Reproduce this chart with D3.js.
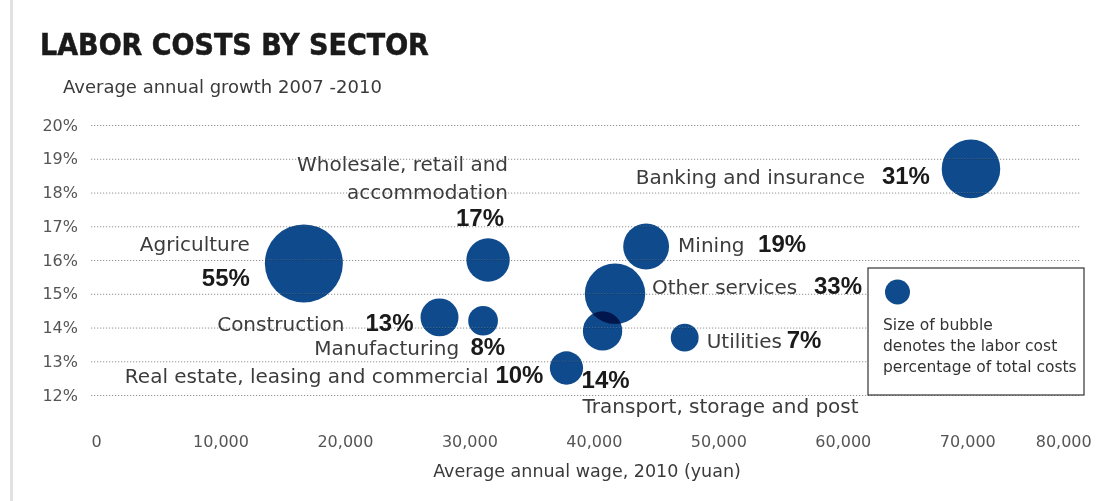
<!DOCTYPE html>
<html>
<head>
<meta charset="utf-8">
<script src="https://cdn.jsdelivr.net/npm/d3@7"></script>
<style>
  html, body { margin: 0; padding: 0; background: #fff; }
  svg { display: block; }
  .bubble { mix-blend-mode: multiply; }
</style>
</head>
<body>
<svg id="chart" width="1102" height="501"></svg>
<script>
// Sectors, 2010 average wage (yuan), average annual growth 2007-2010 (%),
// and labor cost as a share of total costs (%)
const sectors = [
  "Agriculture",
  "Wholesale, retail and accommodation",
  "Construction",
  "Manufacturing",
  "Real estate, leasing and commercial",
  "Transport, storage and post",
  "Other services",
  "Mining",
  "Utilities",
  "Banking and insurance"
];
const wages       = [16700, 31500, 27600, 31100, 37800, 40700, 41700, 44200, 47300, 70300];
const growthRates = [15.9, 16.0, 14.3, 14.2, 12.8, 13.9, 15.0, 16.4, 13.7, 18.7];
const laborShares = [55, 17, 13, 8, 10, 14, 33, 19, 7, 31];

const yTicks = [12, 13, 14, 15, 16, 17, 18, 19, 20];
const xTicks = [0, 10000, 20000, 30000, 40000, 50000, 60000, 70000, 80000];

const titleText = "LABOR COSTS BY SECTOR";
const subtitleText = "Average annual growth 2007 -2010";
const xTitleText = "Average annual wage, 2010 (yuan)";
const legendLines = ["Size of bubble", "denotes the labor cost", "percentage of total costs"];

// Label placement around each bubble (offsets from the bubble centre)
const labelLayout = {
  "Agriculture": { lines: ["Agriculture"], anchor: "end", dx: -54, dy: -12, pct: { anchor: "end", dx: -54, dy: 23 } },
  "Wholesale, retail and accommodation": { lines: ["Wholesale, retail and", "accommodation"], anchor: "end", dx: 20, dy: -89, pct: { anchor: "end", dx: 16, dy: -34 } },
  "Construction": { lines: ["Construction"], anchor: "end", dx: -95, dy: 14, pct: { anchor: "end", dx: -26, dy: 14 } },
  "Manufacturing": { lines: ["Manufacturing"], anchor: "end", dx: -24, dy: 34, pct: { anchor: "end", dx: 22, dy: 34 } },
  "Real estate, leasing and commercial": { lines: ["Real estate, leasing and commercial"], anchor: "end", dx: -78, dy: 15, pct: { anchor: "end", dx: -23, dy: 15 } },
  "Transport, storage and post": { lines: ["Transport, storage and post"], anchor: "start", dx: -20, dy: 82, pct: { anchor: "start", dx: -21, dy: 57 } },
  "Other services": { lines: ["Other services"], anchor: "start", dx: 37, dy: 0, pct: { anchor: "end", dx: 247, dy: 0 } },
  "Mining": { lines: ["Mining"], anchor: "start", dx: 32, dy: 5, pct: { anchor: "start", dx: 112, dy: 5 } },
  "Utilities": { lines: ["Utilities"], anchor: "start", dx: 22, dy: 10, pct: { anchor: "start", dx: 102, dy: 10 } },
  "Banking and insurance": { lines: ["Banking and insurance"], anchor: "end", dx: -106, dy: 15, pct: { anchor: "end", dx: -41, dy: 15 } }
};

const W = 1102, H = 501;
const plot = { left: 91, right: 1080, top: 125, bottom: 395 };

const svg = d3.select("#chart");
const sansLight = "'DejaVu Sans', sans-serif";
const sansBold = "'Liberation Sans', Arial, sans-serif";

const x = d3.scaleLinear().domain([0, 80000]).range([96, 1091.7]);
const y = d3.scaleLinear().domain([12, 20]).range([plot.bottom, plot.top]);
const r = d3.scaleSqrt().domain([0, 55]).range([0, 39]);

const rows = sectors.map((name, i) => ({
  name, wage: wages[i], growth: growthRates[i], share: laborShares[i]
}));

// page edge rule on the left
svg.append("rect").attr("x", 10).attr("y", 0).attr("width", 3).attr("height", H).attr("fill", "#e2e2e2");

// title block
svg.append("text").attr("x", 40).attr("y", 55)
  .attr("font-family", "'DejaVu Sans Condensed', 'DejaVu Sans', sans-serif")
  .attr("font-stretch", "condensed")
  .attr("font-weight", 700).attr("font-size", 30)
  .attr("fill", "#1a1a1a").attr("stroke", "#1a1a1a").attr("stroke-width", 0.5)
  .text(titleText);
svg.append("text").attr("x", 63).attr("y", 93)
  .attr("font-family", sansLight).attr("font-size", 18).attr("fill", "#3a3a3a").text(subtitleText);

// y axis: dotted gridlines with percentage labels
const yAxis = d3.axisLeft(y).tickValues(yTicks).tickFormat(d => d + "%")
  .tickSize(-(plot.right - plot.left)).tickPadding(13);
const gy = svg.append("g").attr("transform", `translate(${plot.left},0)`).call(yAxis);
gy.select(".domain").remove();
gy.selectAll(".tick line").attr("stroke", "#858585").attr("stroke-width", 1).attr("stroke-dasharray", "1.2,1.8");
gy.selectAll(".tick text").attr("font-family", sansLight).attr("font-size", 16).attr("fill", "#555");

// x axis: labels only
const xAxis = d3.axisBottom(x).tickValues(xTicks).tickFormat(d3.format(",")).tickSize(0).tickPadding(0);
const gx = svg.append("g").attr("transform", "translate(0,441)").call(xAxis);
gx.select(".domain").remove();
gx.selectAll(".tick text")
  .attr("font-family", sansLight).attr("font-size", 16).attr("fill", "#555").attr("dy", "0.35em");
// keep the last label inside the range end
gx.selectAll(".tick text").each(function () {
  const t = d3.select(this);
  const tick = d3.select(this.parentNode);
  const tx = +tick.attr("transform").match(/translate\(([-\d.]+)/)[1];
  const w = this.getComputedTextLength();
  if (tx + w / 2 > x.range()[1]) t.attr("text-anchor", "end").attr("x", x.range()[1] - tx);
});

svg.append("text").attr("x", 587).attr("y", 477).attr("text-anchor", "middle")
  .attr("font-family", sansLight).attr("font-size", 17.5).attr("fill", "#3a3a3a").text(xTitleText);

// bubbles, largest first
const bubbles = svg.append("g");
bubbles.selectAll("circle")
  .data(rows.slice().sort((a, b) => b.share - a.share))
  .join("circle")
  .attr("class", "bubble")
  .attr("cx", d => x(d.wage)).attr("cy", d => y(d.growth)).attr("r", d => r(d.share))
  .attr("fill", "#0f4b8c");

// faint gridline sheen across the bubbles
svg.append("g").selectAll("line").data(yTicks).join("line")
  .attr("x1", plot.left).attr("x2", plot.right)
  .attr("y1", d => y(d)).attr("y2", d => y(d))
  .attr("stroke", "rgba(255,255,255,0.22)").attr("stroke-dasharray", "1.2,1.8");

// sector names and labor-share labels
const labels = svg.append("g");
rows.forEach(d => {
  const L = labelLayout[d.name];
  const cx = x(d.wage), cy = y(d.growth);
  L.lines.forEach((line, j) => {
    labels.append("text")
      .attr("x", cx + L.dx).attr("y", cy + L.dy + j * 28)
      .attr("text-anchor", L.anchor)
      .attr("font-family", sansLight).attr("font-size", 20).attr("fill", "#3c3c3c")
      .text(line);
  });
  labels.append("text")
    .attr("x", cx + L.pct.dx).attr("y", cy + L.pct.dy)
    .attr("text-anchor", L.pct.anchor)
    .attr("font-family", sansBold).attr("font-weight", 700).attr("font-size", 24)
    .attr("fill", "#1a1a1a")
    .text(d.share + "%");
});

// legend box
const lg = svg.append("g");
lg.append("rect").attr("x", 868).attr("y", 268).attr("width", 216).attr("height", 127)
  .attr("fill", "#fff").attr("stroke", "#333").attr("stroke-width", 1.2);
lg.append("circle").attr("cx", 897.5).attr("cy", 292).attr("r", 12.5).attr("fill", "#0f4b8c");
lg.selectAll("text.leg").data(legendLines).join("text").attr("class", "leg")
  .attr("x", 883).attr("y", (d, i) => 330 + i * 21)
  .attr("font-family", sansLight).attr("font-size", 15.5).attr("fill", "#333")
  .text(d => d);
</script>
</body>
</html>
